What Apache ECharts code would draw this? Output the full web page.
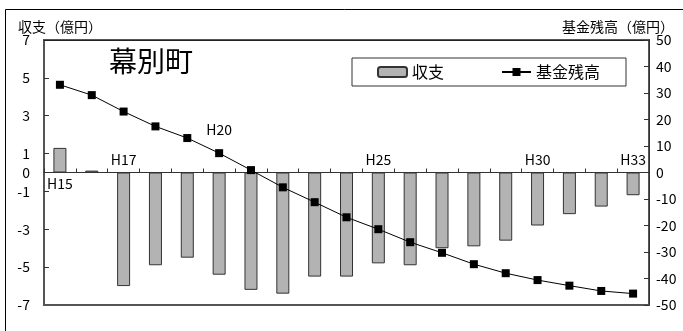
<!DOCTYPE html>
<html>
<head>
<meta charset="utf-8">
<script src="https://cdn.jsdelivr.net/npm/echarts@6/dist/echarts.min.js"></script>
<style>
  html, body { margin: 0; padding: 0; background: #fff; }
  #chart { width: 683px; height: 331px; }
</style>
</head>
<body>
<div id="chart"></div>
<script>
// 幕別町：単年度収支（億円）と基金残高（億円）の推移
const categories = ['H15','H16','H17','H18','H19','H20','H21','H22','H23','H24',
                    'H25','H26','H27','H28','H29','H30','H31','H32','H33'];
const balance = [1.3, 0.1, -6.0, -4.9, -4.5, -5.4, -6.2, -6.4, -5.5, -5.5,
                 -4.8, -4.9, -4.0, -3.9, -3.6, -2.8, -2.2, -1.8, -1.2];
const fund = [33.1, 29.2, 23.0, 17.4, 13.0, 7.3, 0.9, -5.6, -11.2, -16.9,
              -21.4, -26.3, -30.3, -34.6, -38.0, -40.6, -42.7, -44.7, -45.7];
const categoryTickLabels = ['H15', 'H17', 'H20', 'H25', 'H30', 'H33'];
const leftTickLabels = [7, 5, 3, 1, 0, -1, -3, -5, -7];
const leftTickMarks = [5, 3, 1, -1, -3, -5];

const FONT = '"Noto Sans CJK JP", "Noto Sans", sans-serif';

// year labels: lifted in 6px steps above the zero line, H15 sits just below it
const labelLift = { H15: 0, H20: 9 };
const defaultLift = 4;

const chart = echarts.init(document.getElementById('chart'), null, { renderer: 'canvas' });

chart.setOption({
  backgroundColor: '#fff',
  animation: false,
  textStyle: { fontFamily: FONT, color: '#000' },
  graphic: [{
    type: 'rect',
    shape: { x: 5.5, y: 9.5, width: 720, height: 400 },
    style: { fill: 'none', stroke: '#000', lineWidth: 1 },
    silent: true
  }],
  title: [
    { text: '幕別町', left: 104, top: 42,
      textStyle: { fontFamily: FONT, fontSize: 28, fontWeight: 'normal', color: '#000' } },
    { text: '収支（億円）', left: 13, top: 15,
      textStyle: { fontFamily: FONT, fontSize: 14, fontWeight: 'normal', color: '#000' } },
    { text: '基金残高（億円）', right: 4, top: 15,
      textStyle: { fontFamily: FONT, fontSize: 14, fontWeight: 'normal', color: '#000' } }
  ],
  legend: {
    data: ['収支', '基金残高'],
    left: 352, top: 58,
    padding: [6, 26, 6, 25],
    itemGap: 57,
    itemWidth: 29, itemHeight: 10,
    borderColor: '#333', borderWidth: 1,
    backgroundColor: '#fff',
    textStyle: { fontFamily: FONT, fontSize: 16, color: '#000' }
  },
  grid: {
    left: 44, top: 40, right: 34, bottom: 26,
    outerBoundsMode: 'none',
    containLabel: false,
    show: true, borderColor: '#555', borderWidth: 2
  },
  xAxis: [
    {
      type: 'category', data: categories, position: 'bottom',
      axisLine: { onZero: true, lineStyle: { color: '#333', width: 1 } },
      axisTick: { show: true, inside: true, length: 4, lineStyle: { color: '#333' } },
      axisLabel: {
        inside: true,
        interval: 0,
        margin: 118,
        verticalAlign: 'bottom',
        lineHeight: 6,
        fontSize: 14,
        fontFamily: FONT,
        color: '#000',
        formatter: function (v) {
          if (categoryTickLabels.indexOf(v) < 0) return '';
          const n = (v in labelLift) ? labelLift[v] : defaultLift;
          return v + '\n'.repeat(n);
        }
      },
      splitLine: { show: false }
    },
    {
      // top edge of the plot frame
      type: 'category', data: categories, position: 'top',
      axisLine: { show: true, onZero: false, lineStyle: { color: '#222', width: 1 } },
      axisTick: { show: false }, axisLabel: { show: false }, splitLine: { show: false }
    }
  ],
  yAxis: [
    {
      type: 'value', min: -7, max: 7, interval: 1, position: 'left',
      axisLine: { show: true, lineStyle: { color: '#555', width: 2 } },
      axisTick: { show: true, inside: true, length: 5, customValues: leftTickMarks,
                  lineStyle: { color: '#333' } },
      axisLabel: { customValues: leftTickLabels, margin: 14, fontSize: 14,
                   fontFamily: FONT, color: '#000' },
      splitLine: { show: false }
    },
    {
      type: 'value', min: -50, max: 50, interval: 10, position: 'right',
      axisLine: { show: true, lineStyle: { color: '#333', width: 1 } },
      axisTick: { show: true, inside: true, length: 5, lineStyle: { color: '#333' } },
      axisLabel: { margin: 7, fontSize: 14, fontFamily: FONT, color: '#000' },
      splitLine: { show: false }
    }
  ],
  series: [
    {
      name: '収支', type: 'bar', xAxisIndex: 0, yAxisIndex: 0,
      data: balance, barWidth: 13,
      itemStyle: { color: '#b3b3b3', borderColor: '#333', borderWidth: 1 }
    },
    {
      name: '基金残高', type: 'line', xAxisIndex: 0, yAxisIndex: 1,
      data: fund, symbol: 'rect', symbolSize: 8,
      lineStyle: { color: '#000', width: 1 },
      itemStyle: { color: '#000' }
    }
  ]
});
</script>
</body>
</html>
